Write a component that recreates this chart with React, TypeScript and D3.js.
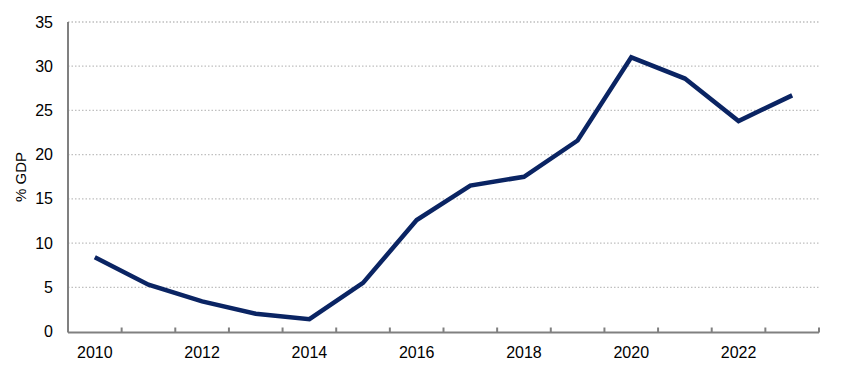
import React from "react";
import * as d3 from "d3";

const years = [2010, 2011, 2012, 2013, 2014, 2015, 2016, 2017, 2018, 2019, 2020, 2021, 2022, 2023];
const values = [8.4, 5.3, 3.4, 2.0, 1.4, 5.5, 12.6, 16.5, 17.5, 21.6, 31.0, 28.6, 23.8, 26.7];
const yTicks = [0, 5, 10, 15, 20, 25, 30, 35];
const xLabelYears = [2010, 2012, 2014, 2016, 2018, 2020, 2022];
const yAxisTitle = "% GDP";

const W = 855;
const H = 375;
const left = 68;
const right = 819;
const top = 22;
const bottom = 331.5;

export default function App() {
  const x = d3.scaleBand<number>().domain(years).range([left, right]).padding(0);
  const y = d3.scaleLinear().domain([0, 35]).range([bottom, top]);
  const line = d3
    .line<number>()
    .x((_, i) => (x(years[i]) as number) + x.bandwidth() / 2)
    .y((d) => y(d));
  const font = "Arial, 'Liberation Sans', sans-serif";
  const boundaries = years.map((yr) => x(yr) as number).concat([right]);
  return (
    <svg
      width={W}
      height={H}
      style={{ position: "absolute", left: 0, top: 0, background: "#fff" }}
      fontFamily={font}
    >
      {yTicks
        .filter((t) => t > 0)
        .map((t) => (
          <line
            key={t}
            x1={left}
            x2={right}
            y1={y(t)}
            y2={y(t)}
            stroke="#bfbfbf"
            strokeWidth={1.3}
            strokeDasharray="1.5,2"
          />
        ))}
      {yTicks.map((t) => (
        <text
          key={t}
          x={53}
          y={y(t)}
          dy="0.35em"
          textAnchor="end"
          fontSize={16}
          fill="#000"
        >
          {t}
        </text>
      ))}
      <line x1={left} x2={left} y1={top} y2={bottom + 1} stroke="#808080" strokeWidth={2} />
      <line x1={left} x2={right} y1={bottom + 1} y2={bottom + 1} stroke="#808080" strokeWidth={2} />
      {boundaries.slice(1).map((bx, i) => (
        <line key={i} x1={bx} x2={bx} y1={bottom - 4} y2={bottom + 1} stroke="#808080" strokeWidth={2} />
      ))}
      {xLabelYears.map((yr) => (
        <text
          key={yr}
          x={(x(yr) as number) + x.bandwidth() / 2}
          y={358}
          textAnchor="middle"
          fontSize={16}
          fill="#000"
        >
          {yr}
        </text>
      ))}
      <text
        transform={`translate(26,${177}) rotate(-90)`}
        textAnchor="middle"
        fontSize={15}
        fill="#000"
      >
        {yAxisTitle}
      </text>
      <path
        d={line(values) || ""}
        fill="none"
        stroke="#0a2463"
        strokeWidth={4.5}
        strokeLinejoin="miter"
      />
    </svg>
  );
}
